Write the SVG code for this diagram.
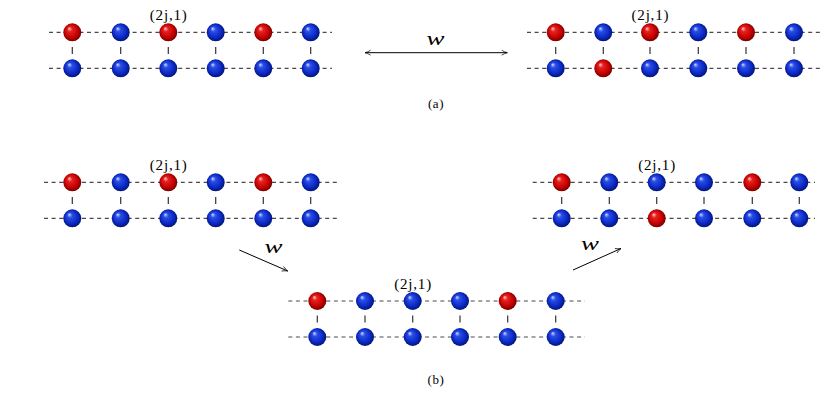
<svg xmlns="http://www.w3.org/2000/svg" width="831" height="400" viewBox="0 0 831 400">
<defs>
<radialGradient id="gRed" cx="0.5" cy="0.5" r="0.55" fx="0.32" fy="0.28">
<stop offset="0" stop-color="#ffd0d0"/>
<stop offset="0.25" stop-color="#e82020"/>
<stop offset="0.7" stop-color="#c00000"/>
<stop offset="1" stop-color="#600000"/>
</radialGradient>
<radialGradient id="gBlue" cx="0.5" cy="0.5" r="0.55" fx="0.32" fy="0.28">
<stop offset="0" stop-color="#d0dcff"/>
<stop offset="0.25" stop-color="#2a4ee8"/>
<stop offset="0.7" stop-color="#0a26c0"/>
<stop offset="1" stop-color="#001060"/>
</radialGradient>
<marker id="arr" viewBox="0 0 10 10" refX="9" refY="5" markerWidth="7" markerHeight="7" orient="auto-start-reverse" markerUnits="userSpaceOnUse">
<path d="M1,1.5 Q5,4 9,5 Q5,6 1,8.5" fill="none" stroke="#000" stroke-width="1"/>
</marker>
</defs>
<style>
.h{stroke:#4a4a4a;stroke-width:1.2;stroke-dasharray:4 3.6;fill:none}
.v{stroke:#333;stroke-width:1.2;fill:none}
.r{fill:url(#gRed)}
.b{fill:url(#gBlue)}
.lbl{font-family:"Liberation Serif","DejaVu Serif",serif;font-size:15px;letter-spacing:0.8px;fill:#000;text-anchor:middle}
.cap{font-family:"Liberation Serif","DejaVu Serif",serif;font-size:13px;letter-spacing:0.6px;fill:#000;text-anchor:middle}
.w{font-family:"Liberation Serif","DejaVu Serif",serif;font-style:italic;font-size:18px;fill:#000;text-anchor:middle}
.arrow{stroke:#000;stroke-width:1;fill:none}
</style>

<!-- Panel a left -->
<g id="a-left">
<line class="h" x1="49" y1="32.3" x2="332" y2="32.3"/>
<line class="h" x1="49" y1="68.3" x2="332" y2="68.3"/>
<line class="v" x1="72.3" y1="47" x2="72.3" y2="54"/>
<line class="v" x1="120.7" y1="47" x2="120.7" y2="54"/>
<line class="v" x1="168.3" y1="47" x2="168.3" y2="54"/>
<line class="v" x1="215.7" y1="47" x2="215.7" y2="54"/>
<line class="v" x1="263.3" y1="47" x2="263.3" y2="54"/>
<line class="v" x1="310.7" y1="47" x2="310.7" y2="54"/>
<circle class="r" cx="72.3" cy="32.3" r="9"/>
<circle class="b" cx="120.7" cy="32.3" r="9"/>
<circle class="r" cx="168.3" cy="32.3" r="9"/>
<circle class="b" cx="215.7" cy="32.3" r="9"/>
<circle class="r" cx="263.3" cy="32.3" r="9"/>
<circle class="b" cx="310.7" cy="32.3" r="9"/>
<circle class="b" cx="72.3" cy="68.3" r="9"/>
<circle class="b" cx="120.7" cy="68.3" r="9"/>
<circle class="b" cx="168.3" cy="68.3" r="9"/>
<circle class="b" cx="215.7" cy="68.3" r="9"/>
<circle class="b" cx="263.3" cy="68.3" r="9"/>
<circle class="b" cx="310.7" cy="68.3" r="9"/>
<text class="lbl" x="168.7" y="19.5">(2j,1)</text>
</g>

<!-- Panel a right -->
<g id="a-right">
<line class="h" x1="527" y1="32.3" x2="820" y2="32.3"/>
<line class="h" x1="527" y1="68.3" x2="820" y2="68.3"/>
<line class="v" x1="555.7" y1="47" x2="555.7" y2="54"/>
<line class="v" x1="603.3" y1="47" x2="603.3" y2="54"/>
<line class="v" x1="650" y1="47" x2="650" y2="54"/>
<line class="v" x1="698.3" y1="47" x2="698.3" y2="54"/>
<line class="v" x1="746" y1="47" x2="746" y2="54"/>
<line class="v" x1="794" y1="47" x2="794" y2="54"/>
<circle class="r" cx="555.7" cy="32.3" r="9"/>
<circle class="b" cx="603.3" cy="32.3" r="9"/>
<circle class="r" cx="650" cy="32.3" r="9"/>
<circle class="b" cx="698.3" cy="32.3" r="9"/>
<circle class="r" cx="746" cy="32.3" r="9"/>
<circle class="b" cx="794" cy="32.3" r="9"/>
<circle class="b" cx="555.7" cy="68.3" r="9"/>
<circle class="r" cx="603.3" cy="68.3" r="9"/>
<circle class="b" cx="650" cy="68.3" r="9"/>
<circle class="b" cx="698.3" cy="68.3" r="9"/>
<circle class="b" cx="746" cy="68.3" r="9"/>
<circle class="b" cx="794" cy="68.3" r="9"/>
<text class="lbl" x="650.4" y="19.5">(2j,1)</text>
</g>

<!-- Panel b left -->
<g id="b-left">
<line class="h" x1="44" y1="182.3" x2="340" y2="182.3"/>
<line class="h" x1="44" y1="218.3" x2="340" y2="218.3"/>
<line class="v" x1="72.3" y1="197" x2="72.3" y2="204"/>
<line class="v" x1="120.7" y1="197" x2="120.7" y2="204"/>
<line class="v" x1="168.3" y1="197" x2="168.3" y2="204"/>
<line class="v" x1="215.7" y1="197" x2="215.7" y2="204"/>
<line class="v" x1="263.3" y1="197" x2="263.3" y2="204"/>
<line class="v" x1="310.7" y1="197" x2="310.7" y2="204"/>
<circle class="r" cx="72.3" cy="182.3" r="9"/>
<circle class="b" cx="120.7" cy="182.3" r="9"/>
<circle class="r" cx="168.3" cy="182.3" r="9"/>
<circle class="b" cx="215.7" cy="182.3" r="9"/>
<circle class="r" cx="263.3" cy="182.3" r="9"/>
<circle class="b" cx="310.7" cy="182.3" r="9"/>
<circle class="b" cx="72.3" cy="218.3" r="9"/>
<circle class="b" cx="120.7" cy="218.3" r="9"/>
<circle class="b" cx="168.3" cy="218.3" r="9"/>
<circle class="b" cx="215.7" cy="218.3" r="9"/>
<circle class="b" cx="263.3" cy="218.3" r="9"/>
<circle class="b" cx="310.7" cy="218.3" r="9"/>
<text class="lbl" x="168.7" y="169.5">(2j,1)</text>
</g>

<!-- Panel b middle -->
<g id="b-mid">
<line class="h" x1="288.3" y1="301" x2="585" y2="301"/>
<line class="h" x1="288.3" y1="337" x2="585" y2="337"/>
<line class="v" x1="317.3" y1="315.5" x2="317.3" y2="322.5"/>
<line class="v" x1="365" y1="315.5" x2="365" y2="322.5"/>
<line class="v" x1="412.7" y1="315.5" x2="412.7" y2="322.5"/>
<line class="v" x1="460" y1="315.5" x2="460" y2="322.5"/>
<line class="v" x1="507.7" y1="315.5" x2="507.7" y2="322.5"/>
<line class="v" x1="555.7" y1="315.5" x2="555.7" y2="322.5"/>
<circle class="r" cx="317.3" cy="301" r="9"/>
<circle class="b" cx="365" cy="301" r="9"/>
<circle class="b" cx="412.7" cy="301" r="9"/>
<circle class="b" cx="460" cy="301" r="9"/>
<circle class="r" cx="507.7" cy="301" r="9"/>
<circle class="b" cx="555.7" cy="301" r="9"/>
<circle class="b" cx="317.3" cy="337" r="9"/>
<circle class="b" cx="365" cy="337" r="9"/>
<circle class="b" cx="412.7" cy="337" r="9"/>
<circle class="b" cx="460" cy="337" r="9"/>
<circle class="b" cx="507.7" cy="337" r="9"/>
<circle class="b" cx="555.7" cy="337" r="9"/>
<text class="lbl" x="413.1" y="288.5">(2j,1)</text>
</g>

<!-- Panel b right -->
<g id="b-right">
<line class="h" x1="532.7" y1="182.3" x2="815" y2="182.3"/>
<line class="h" x1="532.7" y1="218.3" x2="815" y2="218.3"/>
<line class="v" x1="561.7" y1="197" x2="561.7" y2="204"/>
<line class="v" x1="609.3" y1="197" x2="609.3" y2="204"/>
<line class="v" x1="656.7" y1="197" x2="656.7" y2="204"/>
<line class="v" x1="704" y1="197" x2="704" y2="204"/>
<line class="v" x1="752.3" y1="197" x2="752.3" y2="204"/>
<line class="v" x1="799.3" y1="197" x2="799.3" y2="204"/>
<circle class="r" cx="561.7" cy="182.3" r="9"/>
<circle class="b" cx="609.3" cy="182.3" r="9"/>
<circle class="b" cx="656.7" cy="182.3" r="9"/>
<circle class="b" cx="704" cy="182.3" r="9"/>
<circle class="r" cx="752.3" cy="182.3" r="9"/>
<circle class="b" cx="799.3" cy="182.3" r="9"/>
<circle class="b" cx="561.7" cy="218.3" r="9"/>
<circle class="b" cx="609.3" cy="218.3" r="9"/>
<circle class="r" cx="656.7" cy="218.3" r="9"/>
<circle class="b" cx="704" cy="218.3" r="9"/>
<circle class="b" cx="752.3" cy="218.3" r="9"/>
<circle class="b" cx="799.3" cy="218.3" r="9"/>
<text class="lbl" x="657.1" y="169.5">(2j,1)</text>
</g>

<!-- Connectors -->
<g id="connectors">
<line class="arrow" x1="365" y1="52.7" x2="507.3" y2="52.7" marker-start="url(#arr)" marker-end="url(#arr)"/>
<text class="w" x="435.5" y="44.5" textLength="18" lengthAdjust="spacingAndGlyphs">w</text>
<line class="arrow" x1="239.3" y1="250" x2="287.7" y2="271" marker-end="url(#arr)"/>
<text class="w" x="273.5" y="253" textLength="18" lengthAdjust="spacingAndGlyphs">w</text>
<line class="arrow" x1="573" y1="270" x2="621" y2="248.5" marker-end="url(#arr)"/>
<text class="w" x="590" y="250" textLength="18" lengthAdjust="spacingAndGlyphs">w</text>
</g>

<text class="cap" x="436" y="108">(a)</text>
<text class="cap" x="436" y="384">(b)</text>
</svg>
